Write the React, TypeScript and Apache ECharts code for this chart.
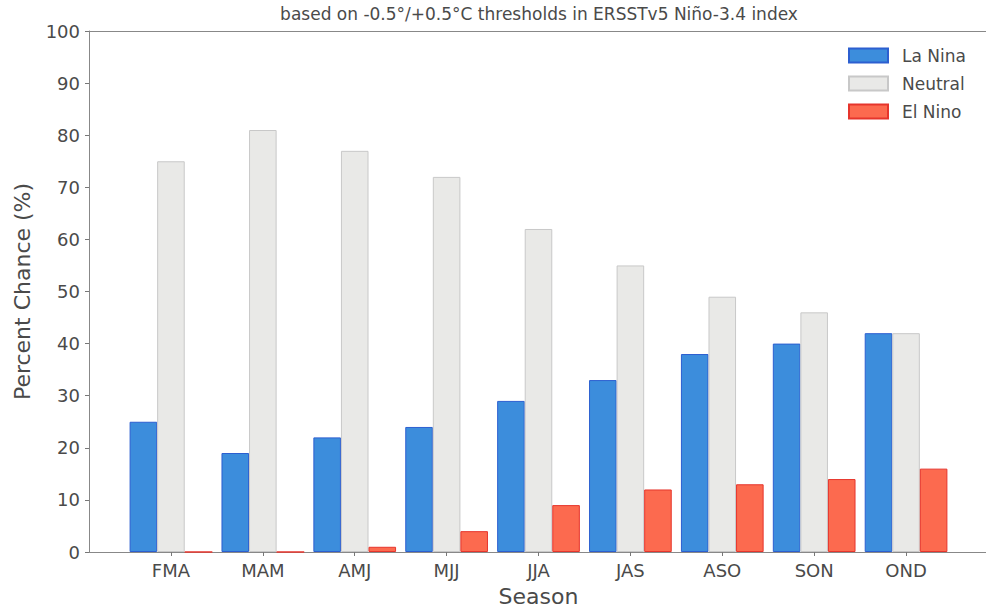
import React, { useEffect, useRef } from "react";
import * as echarts from "echarts";

const seasons = ["FMA", "MAM", "AMJ", "MJJ", "JJA", "JAS", "ASO", "SON", "OND"];
const laNina = [25, 19, 22, 24, 29, 33, 38, 40, 42];
const neutral = [75, 81, 77, 72, 62, 55, 49, 46, 42];
const elNino = [0, 0, 1, 4, 9, 12, 13, 14, 16];
const yTicks = [0, 10, 20, 30, 40, 50, 60, 70, 80, 90, 100];

const FONT = "DejaVu Sans";
const TXT = "#4a4a4a";
const FRAME = "#888";

export default function App() {
  const ref = useRef<HTMLDivElement>(null);
  useEffect(() => {
    if (!ref.current) return;
    document.documentElement.style.overflow = "hidden";
    document.body.style.overflow = "hidden";
    document.body.style.margin = "0";
    const chart = echarts.init(ref.current, undefined, { renderer: "svg" });
    const bandLeft = 125;
    const bandWidth = 827;
    const plotTop = 31;
    const plotBottom = 552;
    chart.setOption({
      animation: false,
      backgroundColor: "#ffffff",
      textStyle: { fontFamily: FONT, color: TXT },
      graphic: [
        {
          type: "text",
          x: 539,
          y: 5,
          style: {
            text: "based on -0.5°/+0.5°C thresholds in ERSSTv5 Niño-3.4 index",
            fontFamily: FONT,
            fontSize: 17,
            fill: TXT,
            textAlign: "center",
            textVerticalAlign: "top",
          },
        },
        {
          type: "line",
          z: 0,
          shape: { x1: 89, y1: plotTop + 0.5, x2: 986, y2: plotTop + 0.5 },
          style: { stroke: FRAME, lineWidth: 1 },
        },
        {
          type: "line",
          z: 0,
          shape: { x1: 89, y1: plotBottom + 0.5, x2: 986, y2: plotBottom + 0.5 },
          style: { stroke: FRAME, lineWidth: 1 },
        },
      ],
      legend: {
        orient: "vertical",
        left: 843,
        top: 42,
        itemWidth: 39,
        itemHeight: 14,
        itemGap: 11,
        icon: "rect",
        textStyle: { fontFamily: FONT, fontSize: 17, color: TXT, padding: [0, 0, 0, 9] },
        data: ["La Nina", "Neutral", "El Nino"],
      },
      grid: [
        {
          left: 89, right: 0, top: plotTop, bottom: 608 - plotBottom, show: false,
          outerBoundsMode: "none", containLabel: false,
        },
        { left: bandLeft, width: bandWidth, top: plotTop, bottom: 608 - plotBottom, outerBoundsMode: "none", containLabel: false },
      ],
      xAxis: [
        { type: "value", gridIndex: 0, min: 0, max: 1, show: false },
        {
          type: "category",
          gridIndex: 1,
          data: seasons,
          boundaryGap: true,
          axisLine: { show: false },
          axisTick: { show: true, alignWithLabel: true, length: 4, lineStyle: { color: "#777" } },
          axisLabel: { fontFamily: FONT, fontSize: 18, color: TXT, margin: 9 },
          name: "Season",
          nameLocation: "middle",
          nameGap: 33,
          nameTextStyle: { fontFamily: FONT, fontSize: 22, color: TXT },
        },
      ],
      yAxis: [
        {
          type: "value",
          gridIndex: 0,
          min: 0,
          max: 100,
          interval: 10,
          axisLine: { show: true, lineStyle: { color: FRAME } },
          axisTick: { show: true, length: 4, lineStyle: { color: "#777" } },
          splitLine: { show: false },
          axisLabel: {
            fontFamily: FONT,
            fontSize: 18,
            color: TXT,
            margin: 9,
            formatter: (v: number) => (yTicks.includes(v) ? String(v) : ""),
          },
          name: "Percent Chance (%)",
          nameLocation: "middle",
          nameGap: 56,
          nameTextStyle: { fontFamily: FONT, fontSize: 22, color: TXT },
        },
        { type: "value", gridIndex: 1, min: 0, max: 100, show: false },
      ],
      series: [
        {
          name: "La Nina",
          type: "bar",
          xAxisIndex: 1,
          yAxisIndex: 1,
          data: laNina,
          barWidth: "30%",
          barGap: "0%",
          itemStyle: { color: "#3c8ddc", borderColor: "#2c5fd0", borderWidth: 1 },
        },
        {
          name: "Neutral",
          type: "bar",
          xAxisIndex: 1,
          yAxisIndex: 1,
          data: neutral,
          barWidth: "30%",
          barGap: "0%",
          itemStyle: { color: "#e9e9e7", borderColor: "#c8c8c8", borderWidth: 1 },
        },
        {
          name: "El Nino",
          type: "bar",
          xAxisIndex: 1,
          yAxisIndex: 1,
          data: elNino,
          barWidth: "30%",
          barGap: "0%",
          itemStyle: { color: "#fc6a4f", borderColor: "#e6352c", borderWidth: 1 },
        },
      ],
    });
    return () => chart.dispose();
  }, []);
  return (
    <div
      ref={ref}
      style={{ position: "fixed", left: 0, top: 0, width: 986, height: 608, background: "#fff" }}
    />
  );
}
